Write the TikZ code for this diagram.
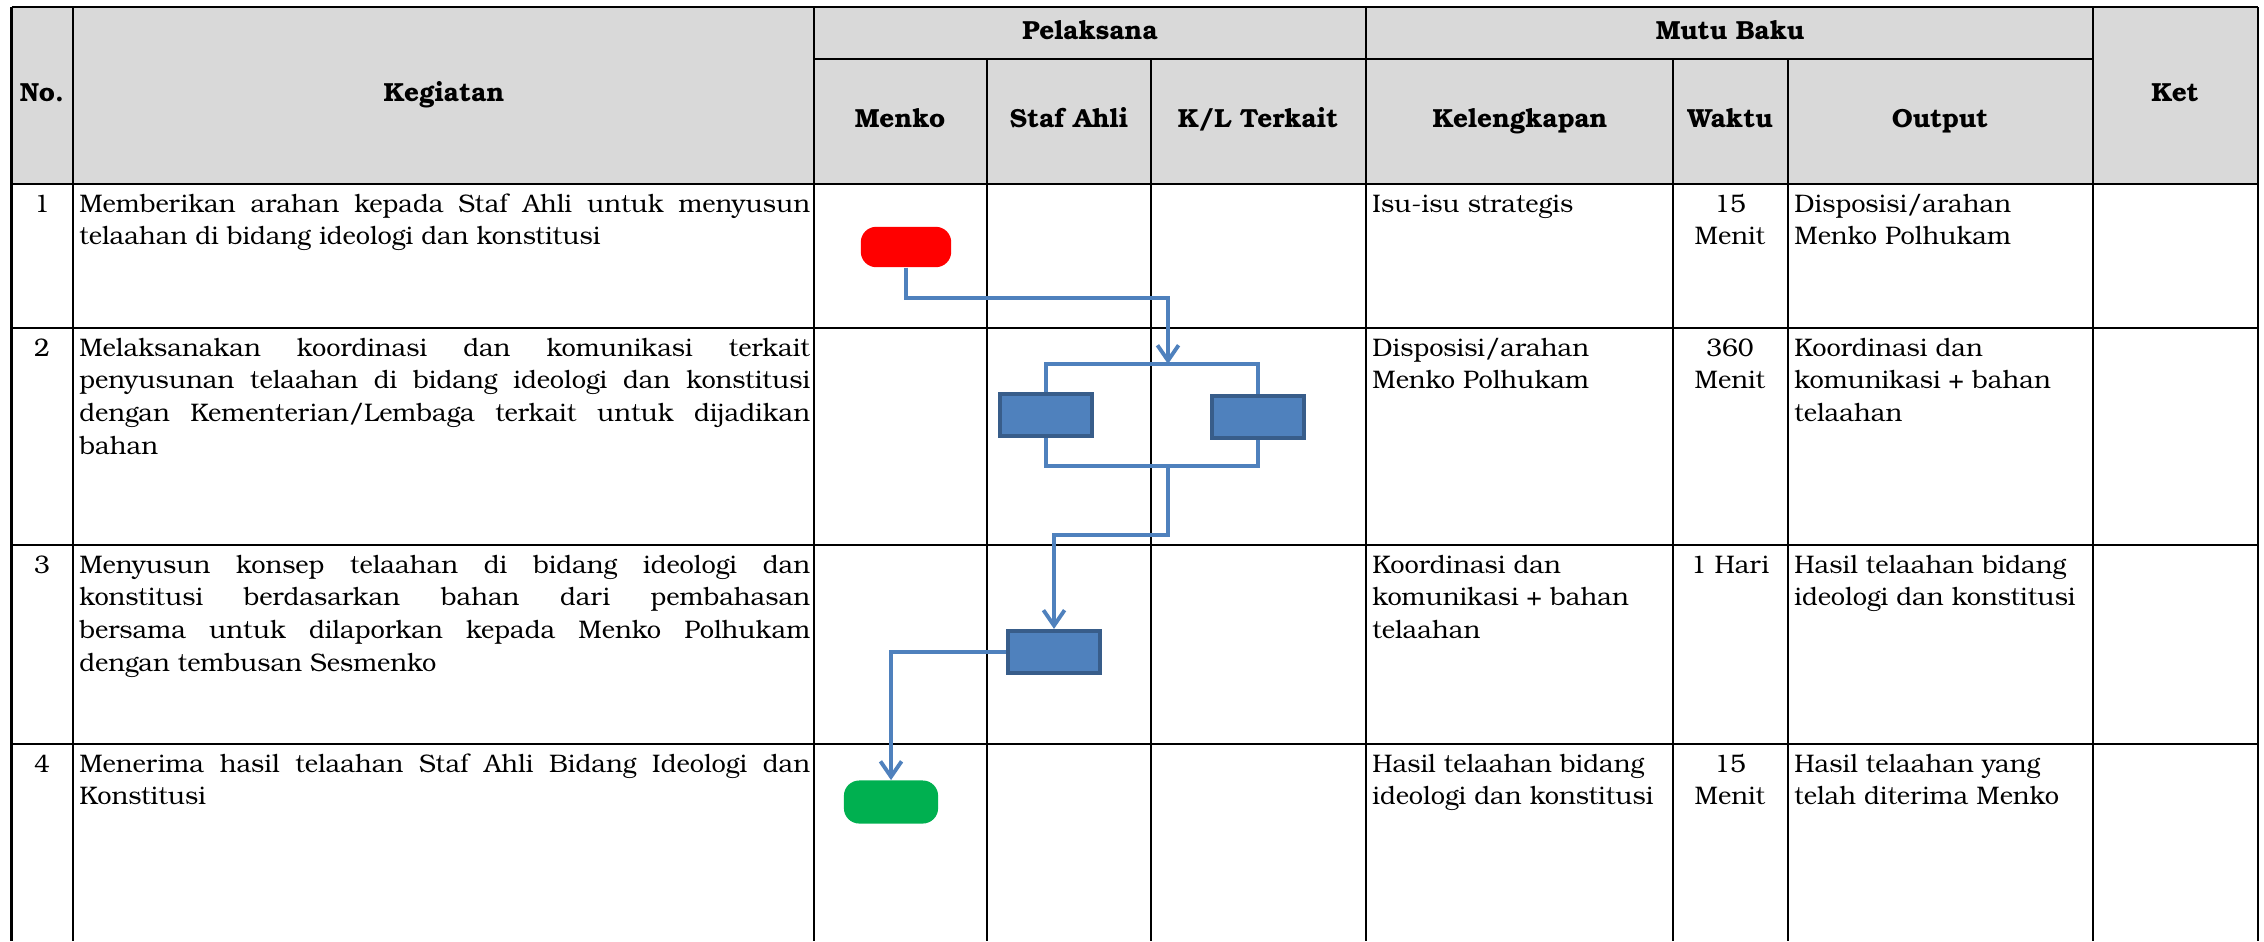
\documentclass[tikz,border=0pt]{standalone}
\usepackage{fontspec}
\setmainfont{TeX Gyre Bonum}
\usetikzlibrary{arrows.meta}

\definecolor{headgray}{HTML}{D9D9D9}
\definecolor{flowblue}{HTML}{4F81BD}
\definecolor{procborder}{HTML}{385D8A}
\definecolor{startred}{HTML}{FF0000}
\definecolor{finishgreen}{HTML}{00B050}

\newcommand{\bodyfont}{\fontsize{13.2}{17}\selectfont}
\newcommand{\headfont}{\fontsize{13.6}{17}\selectfont\bfseries}

\tikzset{
  tableline/.style={line width=1.4pt},
  kegiatan/.style={anchor=north west, inner sep=0pt, text width=380pt, align=justify, font=\bodyfont},
  cell/.style={anchor=north west, inner sep=0pt, align=left, font=\bodyfont},
  waktu/.style={anchor=north, inner sep=0pt, align=center, font=\bodyfont},
  head/.style={inner sep=0pt, align=center, font=\headfont, text height=1.6ex, text depth=.3ex},
  terminal/.style={rounded corners=8pt, minimum width=47pt, minimum height=21pt, inner sep=0pt},
  process/.style={draw=procborder, fill=flowblue, line width=2pt, minimum width=48pt, minimum height=22pt, inner sep=0pt},
  flowline/.style={draw=flowblue, line width=2pt},
  flowarrow/.style={flowline, -{Straight Barb[length=8pt,width=11pt]}}
}

\begin{document}
\begin{tikzpicture}[x=0.52pt, y=-0.52pt]
\useasboundingbox (0,0) rectangle (2264,941);

%% header
\fill[headgray] (11.5,7) rectangle (2258,184);
\node[head] (hno) at (42,95) {No.};
\node[head] (hkeg) at (444,95) {Kegiatan};
\node[head] (hpel) at (1090,33) {Pelaksana};
\node[head] (hmutu) at (1730,33) {Mutu Baku};
\node[head] (hmenko) at (900,121) {Menko};
\node[head] (hstaf) at (1069,121) {Staf Ahli};
\node[head] (hkl) at (1258,121) {K/L Terkait};
\node[head] (hkel) at (1520,121) {Kelengkapan};
\node[head] (hwaktu) at (1730,121) {Waktu};
\node[head] (hout) at (1940,121) {Output};
\node[head] (hket) at (2175,95) {Ket};

%% table lines
\draw[tableline] (11.5,7) -- (2258,7);
\draw[tableline] (814,59) -- (2093,59);
\foreach \y in {184,328,545,744}
  \draw[tableline] (11.5,\y) -- (2258,\y);
\foreach \x in {11.5,73,814,1366,2093,2258}
  \draw[tableline] (\x,7) -- (\x,941);
\foreach \x in {987,1151,1673,1788}
  \draw[tableline] (\x,59) -- (\x,941);

%% row 1
\node[waktu] (no1) at (42,189) {\strut 1};
\node[kegiatan] (keg1) at (79,189) {\strut Memberikan arahan kepada Staf Ahli untuk menyusun\linebreak telaahan di bidang ideologi dan konstitusi};
\node[cell] (kel1) at (1372,189) {\strut Isu-isu strategis};
\node[waktu] (wak1) at (1730,189) {\strut 15\\Menit};
\node[cell] (out1) at (1794,189) {\strut Disposisi/arahan\\Menko Polhukam};

%% row 2
\node[waktu] (no2) at (42,333) {\strut 2};
\node[kegiatan] (keg2) at (79,333) {\strut Melaksanakan koordinasi dan komunikasi terkait\linebreak penyusunan telaahan di bidang ideologi dan konstitusi\linebreak dengan Kementerian/Lembaga terkait untuk dijadikan\linebreak bahan};
\node[cell] (kel2) at (1372,333) {\strut Disposisi/arahan\\Menko Polhukam};
\node[waktu] (wak2) at (1730,333) {\strut 360\\Menit};
\node[cell] (out2) at (1794,333) {\strut Koordinasi dan\\komunikasi + bahan\\telaahan};

%% row 3
\node[waktu] (no3) at (42,550) {\strut 3};
\node[kegiatan] (keg3) at (79,550) {\strut Menyusun konsep telaahan di bidang ideologi dan\linebreak konstitusi berdasarkan bahan dari pembahasan\linebreak bersama untuk dilaporkan kepada Menko Polhukam\linebreak dengan tembusan Sesmenko};
\node[cell] (kel3) at (1372,550) {\strut Koordinasi dan\\komunikasi + bahan\\telaahan};
\node[waktu] (wak3) at (1730,550) {\strut 1 Hari};
\node[cell] (out3) at (1794,550) {\strut Hasil telaahan bidang\\ideologi dan konstitusi};

%% row 4
\node[waktu] (no4) at (42,749) {\strut 4};
\node[kegiatan] (keg4) at (79,749) {\strut Menerima hasil telaahan Staf Ahli Bidang Ideologi dan\linebreak Konstitusi};
\node[cell] (kel4) at (1372,749) {\strut Hasil telaahan bidang\\ideologi dan konstitusi};
\node[waktu] (wak4) at (1730,749) {\strut 15\\Menit};
\node[cell] (out4) at (1794,749) {\strut Hasil telaahan yang\\telah diterima Menko};

%% flow shapes
\node[terminal, fill=startred] (start) at (906,247) {};
\node[process] (stafbox) at (1046,415) {};
\node[process] (klbox) at (1258,417) {};
\node[process] (konsep) at (1054,652) {};
\node[terminal, fill=finishgreen, minimum width=49pt, minimum height=22.4pt] (finish) at (891,802) {};

\coordinate (bendA) at (906,298);
\coordinate (split) at (1168,364);
\coordinate (join) at (1168,466);
\coordinate (bendB) at (1168,535);

%% connectors
\draw[flowarrow] (start.south) -- (bendA) -| (split);
\draw[flowline] (stafbox.north) |- (split) -| (klbox.north);
\draw[flowline] (stafbox.south) |- (join) -| (klbox.south);
\draw[flowarrow] (join) -- (bendB) -| (konsep.north);
\draw[flowarrow] (konsep.west) -| (finish.north);

\end{tikzpicture}
\end{document}
